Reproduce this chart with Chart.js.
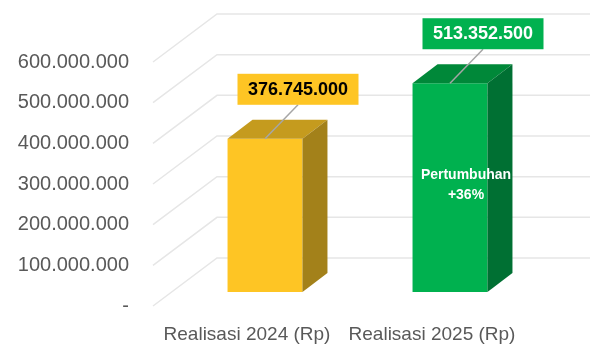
<!DOCTYPE html>
<html>
<head>
<meta charset="utf-8">
<script src="https://cdn.jsdelivr.net/npm/chart.js@4"></script>
<style>
  html, body { margin: 0; padding: 0; background: #fff; }
  #wrap { width: 590px; height: 347px; }
</style>
</head>
<body>
<div id="wrap"><canvas id="realisasiChart" width="590" height="347"></canvas></div>
<script>
const categories = ["Realisasi 2024 (Rp)", "Realisasi 2025 (Rp)"];
const values = [376745000, 513352500];
const frontColors = ["#FEC524", "#00B14F"];
const topColors = ["#C59B1E", "#008839"];
const sideColors = ["#A3811A", "#007033"];
const labelText = ["#000000", "#ffffff"];
const yTicks = [0, 100000000, 200000000, 300000000, 400000000, 500000000, 600000000];

// 3D depth of the bars and of the back wall
const DEPTH = { dx: 25, dy: -19 };
const WALL = { frontX: -19.5, frontY: 14, backX: 44.5, backY: -34 };

// growth from 2024 to 2025
const growth = Math.round((values[1] / values[0] - 1) * 100);

function fmt(v) {
  if (v === 0) return "-";
  return String(Math.round(v)).replace(/\B(?=(\d{3})+(?!\d))/g, ".");
}

const wallGrid = {
  id: "wallGrid",
  beforeDatasetsDraw(chart) {
    const { ctx, chartArea, scales } = chart;
    ctx.save();
    ctx.strokeStyle = "#E6E6E6";
    ctx.lineWidth = 1.5;
    yTicks.forEach(v => {
      const y = scales.y.getPixelForValue(v);
      ctx.beginPath();
      ctx.moveTo(chartArea.left + WALL.frontX, y + WALL.frontY);
      ctx.lineTo(chartArea.left + WALL.backX, y + WALL.backY);
      ctx.lineTo(chart.width, y + WALL.backY);
      ctx.stroke();
    });
    ctx.restore();
  }
};

const bars3d = {
  id: "bars3d",
  afterDatasetsDraw(chart) {
    const { ctx } = chart;
    const meta = chart.getDatasetMeta(0);
    ctx.save();
    meta.data.forEach((bar, i) => {
      const l = bar.x - bar.width / 2;
      const r = bar.x + bar.width / 2;
      const t = bar.y;
      const b = bar.base;

      // top face
      ctx.fillStyle = topColors[i];
      ctx.beginPath();
      ctx.moveTo(l, t);
      ctx.lineTo(l + DEPTH.dx, t + DEPTH.dy);
      ctx.lineTo(r + DEPTH.dx, t + DEPTH.dy);
      ctx.lineTo(r, t);
      ctx.closePath();
      ctx.fill();

      // right side
      ctx.fillStyle = sideColors[i];
      ctx.beginPath();
      ctx.moveTo(r, t);
      ctx.lineTo(r + DEPTH.dx, t + DEPTH.dy);
      ctx.lineTo(r + DEPTH.dx, b + DEPTH.dy);
      ctx.lineTo(r, b);
      ctx.closePath();
      ctx.fill();

      // leader line + value box
      const bx = bar.x + 33;
      const by = t - 34;
      ctx.strokeStyle = "#A6A6A6";
      ctx.lineWidth = 1.5;
      ctx.beginPath();
      ctx.moveTo(bar.x, t);
      ctx.lineTo(bx, by);
      ctx.stroke();

      ctx.fillStyle = frontColors[i];
      ctx.fillRect(bx - 60.5, by - 31, 121, 31);
      ctx.fillStyle = labelText[i];
      ctx.font = "bold 18px 'Liberation Sans', Arial, sans-serif";
      ctx.textAlign = "center";
      ctx.textBaseline = "middle";
      ctx.fillText(fmt(values[i]), bx, by - 15);
    });

    // growth note on the 2025 bar
    const g = meta.data[1];
    const mid = (g.y + g.base) / 2;
    ctx.fillStyle = "#ffffff";
    ctx.font = "bold 14px 'Liberation Sans', Arial, sans-serif";
    ctx.textAlign = "center";
    ctx.textBaseline = "middle";
    ctx.fillText("Pertumbuhan", g.x + 16, mid - 12);
    ctx.fillText("+" + growth + "%", g.x + 16, mid + 8);
    ctx.restore();
  }
};

new Chart(document.getElementById("realisasiChart"), {
  type: "bar",
  data: {
    labels: categories,
    datasets: [{
      data: values,
      backgroundColor: frontColors,
      borderWidth: 0,
      categoryPercentage: 1,
      barPercentage: 0.405
    }]
  },
  options: {
    responsive: false,
    animation: false,
    events: [],
    layout: { padding: { top: 48, right: 47.5, left: 0, bottom: 0 } },
    plugins: {
      legend: { display: false },
      tooltip: { enabled: false }
    },
    scales: {
      x: {
        grid: { display: false, drawTicks: false },
        border: { display: false },
        ticks: {
          color: "#595959",
          font: { family: "'Liberation Sans', Arial, sans-serif", size: 19 },
          padding: 31,
          labelOffset: -18,
          maxRotation: 0
        },
        afterFit: s => { s.height = 55; s.paddingLeft = 0; s.paddingRight = 0; }
      },
      y: {
        min: 0,
        max: 600000000,
        grid: { display: false, drawTicks: false },
        border: { display: false },
        afterBuildTicks: s => { s.ticks = yTicks.map(v => ({ value: v })); },
        ticks: {
          color: "#595959",
          font: { family: "'Liberation Sans', Arial, sans-serif", size: 20 },
          padding: 43.5,
          labelOffset: 14,
          callback: v => fmt(v)
        },
        afterFit: s => { s.width = 172.5; s.paddingTop = 0; s.paddingBottom = 0; }
      }
    }
  },
  plugins: [wallGrid, bars3d]
});
</script>
</body>
</html>
